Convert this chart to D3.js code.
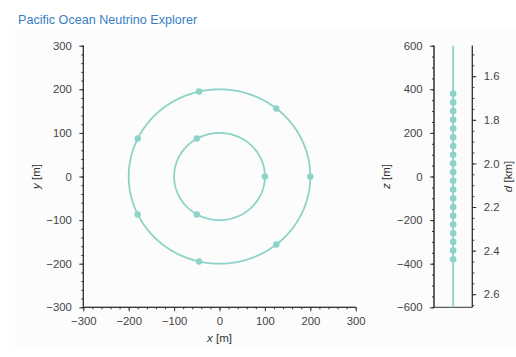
<!DOCTYPE html>
<html>
<head>
<meta charset="utf-8">
<script src="https://cdn.jsdelivr.net/npm/d3@7"></script>
<style>
  html, body { margin: 0; padding: 0; background: #ffffff; }
  svg { display: block; font-family: "Liberation Sans", Arial, sans-serif; }
  .axis path, .axis line { stroke: #333; stroke-width: 1; }
  .axis text { fill: #444; font-size: 11.3px; }
</style>
</head>
<body>
<svg id="chart" width="516" height="357"></svg>
<script>
// Detector geometry: string positions in the horizontal plane (m)
const outerX = [200, 125, -45, -180, -180, -45, 125];
const outerY = [0, 156, 195, 87, -87, -195, -156];
const innerX = [100, -50, -50];
const innerY = [0, 87, -87];
const ringRadii = [100, 200];

// Module heights along a string (m)
const moduleZ = [380, 340, 300, 260, 220, 180, 140, 100, 60, 20,
                 -20, -60, -100, -140, -180, -220, -260, -300, -340, -380];
const centerDepthKm = 2.06;

// Ticks
const xyTicks = [-300, -200, -100, 0, 100, 200, 300];
const xyMinor = d3.range(-300, 301, 20);
const zTicks = [-600, -400, -200, 0, 200, 400, 600];
const zMinor = d3.range(-600, 601, 50);
const dTicks = [1.6, 1.8, 2.0, 2.2, 2.4, 2.6];
const dMinor = d3.range(1.5, 2.66, 0.05).map(v => +v.toFixed(2));

const teal = "#8dd3c7";
const svg = d3.select("#chart");

svg.append("rect").attr("x", 15).attr("y", 30).attr("width", 501).attr("height", 318)
  .attr("fill", "#fcfcfc");

svg.append("text").attr("x", 18).attr("y", 24)
  .attr("fill", "#3b7dc4").attr("font-size", 12.6)
  .text("Pacific Ocean Neutrino Explorer");

const fmt = d3.format("");
const fmtD = d3.format(".1f");

// ---- Top view ----
const plotTop = 45.7, plotBottom = 307.3;
const x = d3.scaleLinear().domain([-300, 300]).range([83.3, 355.7]);
const y = d3.scaleLinear().domain([-300, 300]).range([plotBottom, plotTop]);

const gx = svg.append("g").attr("class", "axis").attr("transform", `translate(0,${plotBottom})`);
gx.call(d3.axisBottom(x).tickValues(xyMinor).tickSize(2).tickFormat(""));
gx.append("g").call(d3.axisBottom(x).tickValues(xyTicks).tickSize(4).tickSizeOuter(0).tickPadding(6).tickFormat(fmt));
gx.selectAll(".domain").attr("d", `M${x(-300)},0H${x(300)}`);

const gy = svg.append("g").attr("class", "axis").attr("transform", `translate(${x(-300)},0)`);
gy.call(d3.axisLeft(y).tickValues(xyMinor).tickSize(2).tickFormat(""));
gy.append("g").call(d3.axisLeft(y).tickValues(xyTicks).tickSize(4).tickSizeOuter(0).tickPadding(7.5).tickFormat(fmt));
gy.selectAll(".domain").attr("d", `M0,${y(300)}V${y(-300)}`);

svg.append("text").attr("x", x(0)).attr("y", 342).attr("text-anchor", "middle")
  .attr("fill", "#333").attr("font-size", 11.5)
  .html('<tspan font-style="italic">x</tspan> [m]');
svg.append("text").attr("transform", `translate(40,${y(0)}) rotate(-90)`)
  .attr("text-anchor", "middle").attr("fill", "#333").attr("font-size", 11.5)
  .html('<tspan font-style="italic">y</tspan> [m]');

const ringLine = d3.line().x(d => x(d[0])).y(d => y(d[1]));
const angles = d3.range(0, 361, 2).map(a => a * Math.PI / 180);
ringRadii.forEach(r => {
  svg.append("path")
    .attr("d", ringLine(angles.map(a => [r * Math.cos(a), r * Math.sin(a)])))
    .attr("fill", "none").attr("stroke", teal).attr("stroke-width", 1.8);
});

const strings = outerX.map((v, i) => [v, outerY[i]])
  .concat(innerX.map((v, i) => [v, innerY[i]]));
svg.append("g").selectAll("circle").data(strings).join("circle")
  .attr("cx", d => x(d[0])).attr("cy", d => y(d[1])).attr("r", 3.2).attr("fill", teal);

// ---- Side view ----
const sx = d3.scaleLinear().domain([-1, 1]).range([434, 472.3]);
const z = d3.scaleLinear().domain([-600, 600]).range([plotBottom, plotTop]);
const dScale = d3.scaleLinear()
  .domain([centerDepthKm - 0.6, centerDepthKm + 0.6]).range([plotTop, plotBottom]);

const gz = svg.append("g").attr("class", "axis").attr("transform", `translate(${sx(-1)},0)`);
gz.call(d3.axisLeft(z).tickValues(zMinor).tickSize(2).tickFormat(""));
gz.append("g").call(d3.axisLeft(z).tickValues(zTicks).tickSize(4).tickSizeOuter(0).tickPadding(7.5).tickFormat(fmt));
gz.selectAll(".domain").attr("d", `M0,${z(600)}V${z(-600)}`);

const [dLo, dHi] = dScale.domain();
const gd = svg.append("g").attr("class", "axis").attr("transform", `translate(${sx(1)},0)`);
gd.call(d3.axisRight(dScale).tickValues(dMinor.filter(v => v >= dLo && v <= dHi)).tickSize(2).tickFormat(""));
gd.append("g").call(d3.axisRight(dScale).tickValues(dTicks).tickSize(4).tickSizeOuter(0).tickPadding(7.5).tickFormat(fmtD));
gd.selectAll(".domain").attr("d", `M0,${plotTop}V${plotBottom}`);

svg.append("line").attr("x1", sx(-1)).attr("x2", sx(1)).attr("y1", plotBottom).attr("y2", plotBottom)
  .attr("stroke", "#333");

svg.append("text").attr("transform", `translate(390,${z(0)}) rotate(-90)`)
  .attr("text-anchor", "middle").attr("fill", "#333").attr("font-size", 11.5)
  .html('<tspan font-style="italic">z</tspan> [m]');
svg.append("text").attr("transform", `translate(512,${z(0)}) rotate(-90)`)
  .attr("text-anchor", "middle").attr("fill", "#333").attr("font-size", 11.5)
  .html('<tspan font-style="italic">d</tspan> [km]');

svg.append("line").attr("x1", sx(0)).attr("x2", sx(0)).attr("y1", z(600)).attr("y2", z(-600))
  .attr("stroke", teal).attr("stroke-width", 1.8);
svg.append("g").selectAll("circle").data(moduleZ).join("circle")
  .attr("cx", sx(0)).attr("cy", d => z(d)).attr("r", 3.3).attr("fill", teal);
</script>
</body>
</html>
